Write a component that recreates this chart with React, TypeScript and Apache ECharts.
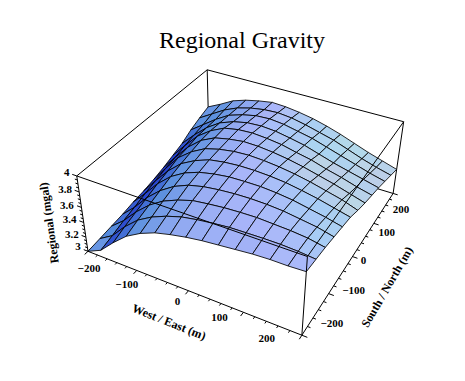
import React, { useEffect, useRef } from "react";
import * as echarts from "echarts";

const title = "Regional Gravity";
const xLabel = "West / East (m)";
const yLabel = "South / North (m)";
const zLabel = "Regional (mgal)";
const xTicks = [-200, -100, 0, 100, 200];
const yTicks = [-200, -100, 0, 100, 200];
const zTicks = [3, 3.2, 3.4, 3.6, 3.8, 4];
const xMinor = [-180,-160,-140,-120,-80,-60,-40,-20,20,40,60,80,120,140,160,180];
const yMinor = [-180,-160,-140,-120,-80,-60,-40,-20,20,40,60,80,120,140,160,180];
const zMinor = [3.05,3.1,3.15,3.25,3.3,3.35,3.45,3.5,3.55,3.65,3.7,3.75,3.85,3.9,3.95];

// Surface heights (mgal); each row is one south/north line, west to east.
const row00 = [3.00,3.09,3.27,3.43,3.54,3.62,3.67,3.71,3.74,3.76,3.78,3.80,3.81,3.81,3.82];
const row01 = [3.02,3.135,3.33,3.49,3.60,3.68,3.74,3.775,3.80,3.82,3.825,3.83,3.83,3.82,3.80];
const row02 = [3.04,3.19,3.38,3.54,3.66,3.74,3.80,3.825,3.845,3.855,3.86,3.85,3.84,3.82,3.78];
const row03 = [3.06,3.23,3.43,3.59,3.71,3.79,3.835,3.86,3.875,3.88,3.875,3.86,3.83,3.80,3.75];
const row04 = [3.09,3.28,3.48,3.64,3.75,3.82,3.86,3.885,3.89,3.89,3.875,3.85,3.81,3.77,3.72];
const row05 = [3.11,3.32,3.52,3.68,3.78,3.85,3.88,3.895,3.895,3.885,3.865,3.83,3.79,3.74,3.69];
const row06 = [3.14,3.36,3.57,3.71,3.81,3.86,3.89,3.90,3.89,3.87,3.84,3.80,3.75,3.70,3.63];
const row07 = [3.18,3.39,3.59,3.74,3.83,3.87,3.895,3.89,3.87,3.84,3.80,3.75,3.70,3.64,3.58];
const row08 = [3.23,3.43,3.62,3.75,3.84,3.875,3.885,3.87,3.845,3.80,3.76,3.70,3.65,3.59,3.54];
const row09 = [3.28,3.46,3.62,3.74,3.81,3.85,3.86,3.845,3.81,3.77,3.71,3.65,3.60,3.55,3.50];
const row10 = [3.36,3.49,3.62,3.73,3.79,3.83,3.84,3.82,3.78,3.74,3.68,3.62,3.56,3.50,3.45];
const row11 = [3.42,3.53,3.64,3.72,3.77,3.80,3.81,3.79,3.75,3.70,3.65,3.58,3.51,3.45,3.40];
const row12 = [3.47,3.56,3.66,3.72,3.76,3.79,3.78,3.755,3.72,3.67,3.61,3.54,3.47,3.41,3.35];
const rows = [row00,row01,row02,row03,row04,row05,row06,row07,row08,row09,row10,row11,row12];

// Camera calibration: where seven box corners fall on the page.
const anchors: number[][] = [
  [0,0,0, 88,252],[1,0,0, 302,335],[1,1,0, 393,193],
  [0,0,1, 77,175],[1,0,1, 307,257],[1,1,1, 404,122],[0,1,1, 207,70],
];

function solveCamera(): number[] {
  const n = 11;
  const A: number[][] = Array.from({length:n},()=>new Array(n+1).fill(0));
  const add = (r:number[], b:number) => {
    for (let i=0;i<n;i++){ for(let j=0;j<n;j++) A[i][j]+=r[i]*r[j]; A[i][n]+=r[i]*b; }
  };
  for (const [X,Y,Z,u,v] of anchors) {
    add([X,Y,Z,1,0,0,0,0,-u*X,-u*Y,-u*Z],u);
    add([0,0,0,0,X,Y,Z,1,-v*X,-v*Y,-v*Z],v);
  }
  for (let c=0;c<n;c++){
    let p=c; for(let r=c+1;r<n;r++) if(Math.abs(A[r][c])>Math.abs(A[p][c])) p=r;
    [A[c],A[p]]=[A[p],A[c]];
    for(let r=0;r<n;r++){ if(r===c) continue; const f=A[r][c]/A[c][c]; for(let k=c;k<=n;k++) A[r][k]-=f*A[c][k]; }
  }
  return A.map((r,i)=>r[n]/r[i]);
}
const cam = solveCamera();
function project(x:number,y:number,z:number){
  const X=(x+200)/400, Y=(y+200)/400, Z=z-3;
  const w=cam[8]*X+cam[9]*Y+cam[10]*Z+1;
  return [(cam[0]*X+cam[1]*Y+cam[2]*Z+cam[3])/w,(cam[4]*X+cam[5]*Y+cam[6]*Z+cam[7])/w,w];
}

const nx = row00.length, ny = rows.length;
const gridX = (i:number)=>-200+400*i/(nx-1);
const gridY = (j:number)=>-200+400*j/(ny-1);

function cellColor(i:number,j:number){
  const a=((rows[j][i+1]+rows[j+1][i+1])-(rows[j][i]+rows[j+1][i]))/2*(nx-1);
  const b=((rows[j+1][i]+rows[j+1][i+1])-(rows[j][i]+rows[j][i+1]))/2*(ny-1);
  const cl=(v:number)=>Math.max(0,Math.min(255,Math.round(v)));
  const up=Math.max(a,0), down=Math.max(-a,0), back=Math.min(0.3,Math.max(0,-b-0.3));
  const R=170-46*up-4*down+70*back;
  const G=182-22*up-50*Math.max(0,up-1.8)+36*down;
  const B=250-16*up-8*down-40*back;
  return `rgb(${cl(R)},${cl(G)},${cl(B)})`;
}

const cells:number[][]=[];
for(let j=0;j<ny-1;j++)for(let i=0;i<nx-1;i++){
  const c=project((gridX(i)+gridX(i+1))/2,(gridY(j)+gridY(j+1))/2,(rows[j][i]+rows[j+1][i+1]+rows[j][i+1]+rows[j+1][i])/4);
  cells.push([i,j,c[2]]);
}
const depthSign = project(200,-200,3)[2] < project(-200,200,3)[2] ? 1 : -1;
cells.sort((p,q)=>depthSign*(q[2]-p[2]));

type Seg=number[];
const backEdges:Seg[]=[
  [-200,-200,4,-200,200,4],[-200,200,4,200,200,4],[-200,200,4,-200,200,3],
  [200,200,3,-200,200,3],[-200,-200,3,-200,200,3],[200,200,4,200,200,3],
];
const frontEdges:Seg[]=[
  [-200,-200,4,200,-200,4],[200,-200,4,200,200,4],[200,-200,4,200,-200,3],
  [-200,-200,3,200,-200,3],[200,-200,3,200,200,3],[-200,-200,4,-200,-200,3],
];
const tickSegs:Seg[]=[
  ...xTicks.map(v=>[v,-200,3,v,-209,3]),
  ...xMinor.map(v=>[v,-200,3,v,-205,3]),
  ...yTicks.map(v=>[200,v,3,209,v,3]),
  ...yMinor.map(v=>[200,v,3,205,v,3]),
  ...zTicks.map(v=>[-200,-200,v,-209,-200,v]),
  ...zMinor.map(v=>[-200,-200,v,-205,-200,v]),
];

const fmtX=(v:number)=>String(v).replace("-","\u2212");
const serif='"Liberation Serif", "Times New Roman", serif';
// label offsets from the tick base, in pixels
const xOff=[[1,17],[-10,14],[-11,10],[-24,5],[-35,3]];
const yOff=[[30,-12],[25,-4],[11,3],[13,9],[8,16]];
const zOff=[[-10,-5],[-14,-3],[-14,-3],[-14.5,-2],[-14,-3],[-10,-4]];
const tickLabels=[
  ...xTicks.map((v,k)=>({t:fmtX(v),p:project(v,-200,3),o:xOff[k]})),
  ...yTicks.map((v,k)=>({t:fmtX(v),p:project(200,v,3),o:yOff[k]})),
  ...zTicks.map((v,k)=>({t:String(v),p:project(-200,-200,v),o:zOff[k]})),
];
const axisTitles=[
  {t:xLabel,x:169,y:322,r:-21.7},
  {t:yLabel,x:387,y:287,r:60},
  {t:zLabel,x:49,y:223,r:98},
];

function lineSeries(segs:Seg[],z:number){
  return {
    type:"custom",coordinateSystem:"cartesian2d",silent:true,z,clip:false,
    data:segs.map((_,k)=>[k,0]),
    renderItem:(params:any,api:any)=>{
      const s=segs[params.dataIndex];
      const a=api.coord(project(s[0],s[1],s[2]).slice(0,2));
      const b=api.coord(project(s[3],s[4],s[5]).slice(0,2));
      return {type:"line",shape:{x1:a[0],y1:a[1],x2:b[0],y2:b[1]},style:{stroke:"#000",lineWidth:1,fill:"none"}};
    },
  };
}

export default function App(){
  const ref=useRef<HTMLDivElement>(null);
  useEffect(()=>{
    const chart=echarts.init(ref.current!,undefined,{renderer:"svg"});
    chart.setOption({
      animation:false,
      backgroundColor:"#fff",
      title:{text:title,left:237,top:23,textAlign:"center",textStyle:{fontFamily:serif,fontSize:24,fontWeight:"normal",color:"#000"}},
      grid:{left:0,right:0,top:0,bottom:0},
      xAxis:{type:"value",min:0,max:465,show:false},
      yAxis:{type:"value",min:0,max:381,inverse:true,show:false},
      series:[
        lineSeries(backEdges,1),
        {
          type:"custom",coordinateSystem:"cartesian2d",silent:true,z:2,clip:false,
          data:cells.map(c=>[c[0],c[1]]),
          renderItem:(params:any,api:any)=>{
            const [i,j]=cells[params.dataIndex];
            const corner=(a:number,b:number)=>api.coord(project(gridX(a),gridY(b),rows[b][a]).slice(0,2));
            return {type:"polygon",shape:{points:[corner(i,j),corner(i+1,j),corner(i+1,j+1),corner(i,j+1)]},
              style:{fill:cellColor(i,j),stroke:"#000",lineWidth:0.85,lineJoin:"round"}};
          },
        },
        lineSeries(frontEdges,3),
        lineSeries(tickSegs,3),
        {
          type:"custom",coordinateSystem:"cartesian2d",silent:true,z:4,clip:false,
          data:tickLabels.map((_,k)=>[k,0]),
          renderItem:(params:any,api:any)=>{
            const l=tickLabels[params.dataIndex];
            const c=api.coord([l.p[0]+l.o[0],l.p[1]+l.o[1]]);
            return {type:"text",x:c[0],y:c[1],style:{text:l.t,fill:"#000",font:`bold 11px ${serif}`,textAlign:"center",textVerticalAlign:"middle"}};
          },
        },
        {
          type:"custom",coordinateSystem:"cartesian2d",silent:true,z:4,clip:false,
          data:axisTitles.map((_,k)=>[k,0]),
          renderItem:(params:any,api:any)=>{
            const l=axisTitles[params.dataIndex];
            const c=api.coord([l.x,l.y]);
            return {type:"text",x:c[0],y:c[1],rotation:l.r*Math.PI/180,style:{text:l.t,fill:"#000",font:`bold 12px ${serif}`,textAlign:"center",textVerticalAlign:"middle"}};
          },
        },
      ],
    });
    return ()=>chart.dispose();
  },[]);
  return <div ref={ref} style={{position:"fixed",left:0,top:0,width:465,height:381,background:"#fff"}}/>;
}
